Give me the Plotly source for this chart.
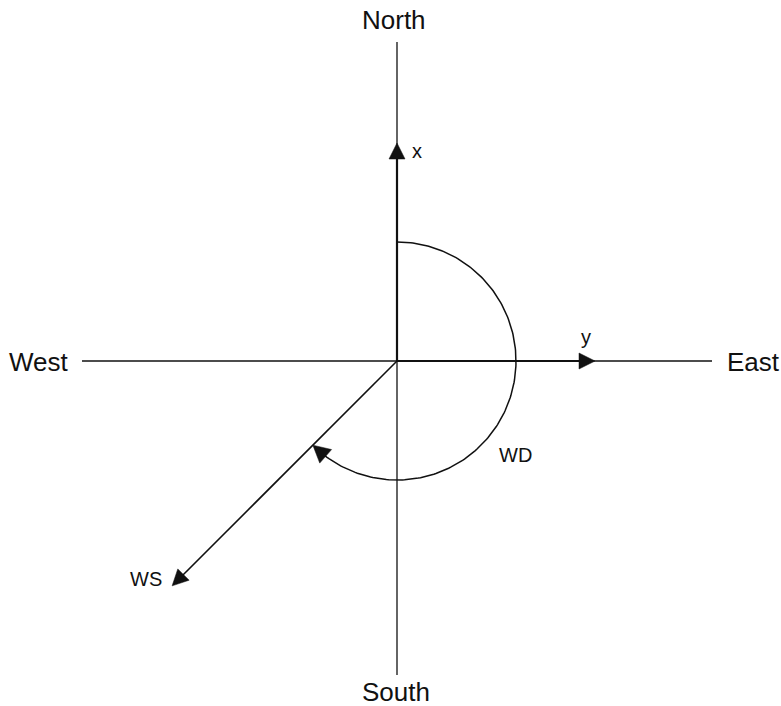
import numpy as np
import plotly.graph_objects as go

# ---- diagram content ----
directions = ["North", "East", "South", "West"]
direction_angles = [0, 90, 180, 270]          # degrees clockwise from north
direction_lengths = [319, 315, 314, 315]      # length of each compass line
axis_labels = ["x", "y"]
axis_angles = [0, 90]
axis_arrow_lengths = [218, 198]
wind_direction_deg = 225                      # WD angle (clockwise from north)
wind_speed_length = 318                       # WS arrow length
wd_radius = 119
wind_labels = ["WD", "WS"]

W, H = 781, 706
CX, CY = 397, 361
INK = "#111111"
FONT = "Liberation Sans, Arial, sans-serif"


def polar(r, deg):
    t = np.deg2rad(deg)
    return CX + r * np.sin(t), CY - r * np.cos(t)


def head(tip, u, L=16, hw=8):
    tx, ty = tip
    ux, uy = u
    bx, by = tx - L * ux, ty - L * uy
    px, py = -uy, ux
    return [tx, bx + hw * px, bx - hw * px, tx], [ty, by + hw * py, by - hw * py, ty]


fig = go.Figure()

# compass lines (thin)
for ang, ln in zip(direction_angles, direction_lengths):
    x1, y1 = polar(ln, ang)
    fig.add_trace(go.Scatter(x=[CX, x1], y=[CY, y1], mode="lines",
                             line=dict(color=INK, width=1.3), hoverinfo="skip"))

# x / y axis arrows (thicker)
for ang, ln in zip(axis_angles, axis_arrow_lengths):
    x1, y1 = polar(ln - 10, ang)
    fig.add_trace(go.Scatter(x=[CX, x1], y=[CY, y1], mode="lines",
                             line=dict(color=INK, width=2.2), hoverinfo="skip"))
    tip = polar(ln, ang)
    t = np.deg2rad(ang)
    hx, hy = head(tip, (np.sin(t), -np.cos(t)))
    fig.add_trace(go.Scatter(x=hx, y=hy, mode="lines", fill="toself",
                             fillcolor=INK, line=dict(color=INK, width=0.5),
                             hoverinfo="skip"))

# WS arrow
t = np.deg2rad(wind_direction_deg)
u_ws = (np.sin(t), -np.cos(t))
x1, y1 = polar(wind_speed_length - 10, wind_direction_deg)
fig.add_trace(go.Scatter(x=[CX, x1], y=[CY, y1], mode="lines",
                         line=dict(color=INK, width=1.6), hoverinfo="skip"))
hx, hy = head(polar(wind_speed_length, wind_direction_deg), u_ws)
fig.add_trace(go.Scatter(x=hx, y=hy, mode="lines", fill="toself",
                         fillcolor=INK, line=dict(color=INK, width=0.5),
                         hoverinfo="skip"))

# WD arc
head_len = 16
end_deg = wind_direction_deg - np.rad2deg(head_len / wd_radius) + 2
angs = np.linspace(0, end_deg, 200)
ax_, ay_ = polar(wd_radius, angs)
fig.add_trace(go.Scatter(x=ax_, y=ay_, mode="lines",
                         line=dict(color=INK, width=1.5), hoverinfo="skip"))
tip = polar(wd_radius, wind_direction_deg)
ex, ey = polar(wd_radius, wind_direction_deg - np.rad2deg(head_len / wd_radius))
d = np.array([tip[0] - ex, tip[1] - ey])
d = d / np.linalg.norm(d)
hx, hy = head(tip, d, L=17, hw=9)
fig.add_trace(go.Scatter(x=hx, y=hy, mode="lines", fill="toself",
                         fillcolor=INK, line=dict(color=INK, width=0.5),
                         hoverinfo="skip"))

# labels
big = dict(family=FONT, size=26, color=INK)
mid = dict(family=FONT, size=20, color=INK)
dir_pos = {"North": (394, 20), "East": (753, 362),
           "South": (396, 692), "West": (39, 362)}
for name in directions:
    x, y = dir_pos[name]
    fig.add_annotation(x=x, y=y, text=name, showarrow=False, font=big,
                       xanchor="center", yanchor="middle")
axis_pos = {"x": (417, 151), "y": (586, 337)}
for name in axis_labels:
    x, y = axis_pos[name]
    fig.add_annotation(x=x, y=y, text=name, showarrow=False, font=mid,
                       xanchor="center", yanchor="middle")
wind_pos = {"WD": (515, 455), "WS": (146, 579)}
for name in wind_labels:
    x, y = wind_pos[name]
    fig.add_annotation(x=x, y=y, text=name, showarrow=False, font=mid,
                       xanchor="center", yanchor="middle")

fig.update_xaxes(range=[0, W], visible=False, fixedrange=True)
fig.update_yaxes(range=[H, 0], visible=False, fixedrange=True)
fig.update_layout(width=W, height=H, margin=dict(l=0, r=0, t=0, b=0),
                  plot_bgcolor="white", paper_bgcolor="white",
                  showlegend=False)
fig.write_html("out.html", config={"displayModeBar": False},
               post_script="document.body.style.margin='0';"
                           "document.body.style.overflow='hidden';")
